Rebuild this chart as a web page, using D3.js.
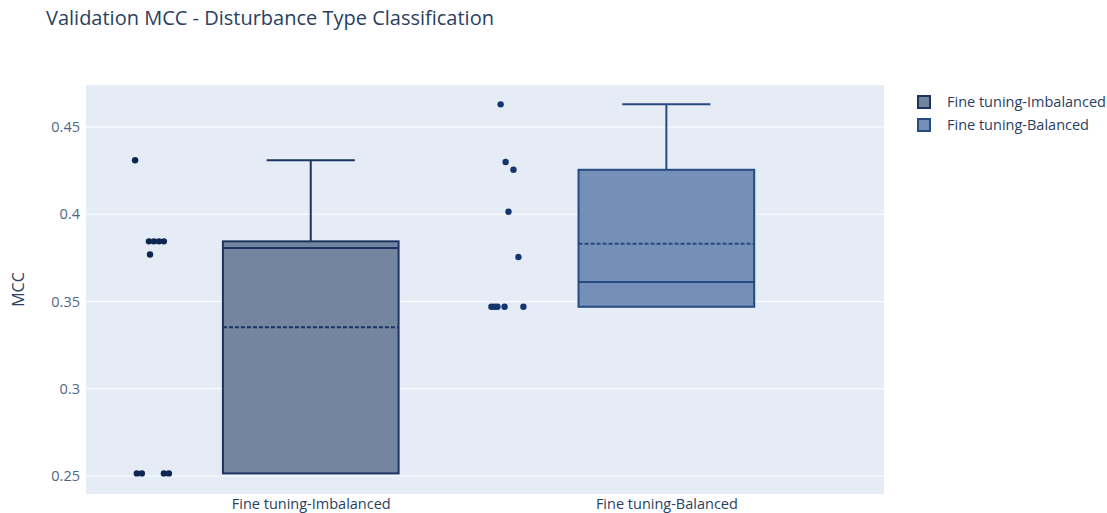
<!DOCTYPE html>
<html><head><meta charset="utf-8">
<script src="https://cdn.jsdelivr.net/npm/d3@7"></script>
<style>body{margin:0;background:#fff;}svg{display:block;font-family:"Open Sans",sans-serif;}</style>
</head><body><svg id="c" width="1107" height="513"></svg>
<script>
const categories = ["Fine tuning-Imbalanced", "Fine tuning-Balanced"];
const imbalancedValues = [0.431, 0.3845, 0.3845, 0.3845, 0.3845, 0.377, 0.2515, 0.2515, 0.2515, 0.2515];
const balancedValues = [0.463, 0.430, 0.4255, 0.4015, 0.3755, 0.347, 0.347, 0.347, 0.347, 0.347];
// horizontal jitter of each point (category units, relative to category centre)
const imbalancedJitter = [-0.494, -0.455, -0.441, -0.427, -0.413, -0.452, -0.489, -0.475, -0.413, -0.399];
const balancedJitter = [-0.466, -0.452, -0.430, -0.444, -0.416, -0.492, -0.483, -0.475, -0.455, -0.402];
const yTicks = [0.25, 0.3, 0.35, 0.4, 0.45];

const series = [
  {name: categories[0], values: imbalancedValues, jitter: imbalancedJitter, fill: "#74869f", stroke: "#1b3461", point: "#0e2652"},
  {name: categories[1], values: balancedValues, jitter: balancedJitter, fill: "#7590b8", stroke: "#274a80", point: "#12366d"}
];

const svg = d3.select("#c");
const L = 86, R = 884, T = 85, B = 494;
const x = d3.scaleLinear().domain([-0.632, 1.612]).range([L, R]);
const y = d3.scaleLinear().domain([0.2397, 0.4741]).range([B, T]);

svg.append("rect").attr("x", L).attr("y", T).attr("width", R - L).attr("height", B - T).attr("fill", "#e5ecf6");

// grid
svg.append("g").selectAll("line").data(yTicks).join("line")
  .attr("x1", L).attr("x2", R).attr("y1", d => y(d)).attr("y2", d => y(d))
  .attr("stroke", "#fff").attr("stroke-width", 1);

// y axis
const yAxis = d3.axisLeft(y).tickValues(yTicks).tickSize(0).tickPadding(6).tickFormat(d => String(+d.toFixed(2)));
const ya = svg.append("g").attr("transform", `translate(${L},0)`).call(yAxis);
ya.select(".domain").remove();
ya.selectAll("text").attr("font-size", 14.5).attr("fill", "#506784").attr("font-family", "Open Sans");

// x axis
const xAxis = d3.axisBottom(x).tickValues([0, 1]).tickSize(0).tickPadding(5).tickFormat(i => categories[i]);
const xa = svg.append("g").attr("transform", `translate(0,${B})`).call(xAxis);
xa.select(".domain").remove();
xa.selectAll("text").attr("font-size", 14.5).attr("fill", "#2a3f5f").attr("font-family", "Open Sans");

// quartile per plotly 'linear'
function q(sorted, p) {
  const n = sorted.length;
  let pos = n * p + 0.5 - 1;
  pos = Math.max(0, Math.min(n - 1, pos));
  const lo = Math.floor(pos), hi = Math.ceil(pos);
  return sorted[lo] + (sorted[hi] - sorted[lo]) * (pos - lo);
}

const halfBox = 0.247, halfCap = 0.124;
series.forEach((s, i) => {
  const sorted = s.values.slice().sort(d3.ascending);
  const q1 = q(sorted, 0.25), q3 = q(sorted, 0.75), med = d3.median(sorted), mean = d3.mean(sorted);
  const iqr = q3 - q1;
  const hiW = d3.max(sorted.filter(v => v <= q3 + 1.5 * iqr));
  const loW = d3.min(sorted.filter(v => v >= q1 - 1.5 * iqr));
  const g = svg.append("g");
  const cx = x(i);
  g.append("line").attr("x1", cx).attr("x2", cx).attr("y1", y(q3)).attr("y2", y(hiW)).attr("stroke", s.stroke).attr("stroke-width", 2);
  g.append("line").attr("x1", x(i - halfCap)).attr("x2", x(i + halfCap)).attr("y1", y(hiW)).attr("y2", y(hiW)).attr("stroke", s.stroke).attr("stroke-width", 2);
  g.append("line").attr("x1", cx).attr("x2", cx).attr("y1", y(q1)).attr("y2", y(loW)).attr("stroke", s.stroke).attr("stroke-width", 2);
  if (loW < q1) g.append("line").attr("x1", x(i - halfCap)).attr("x2", x(i + halfCap)).attr("y1", y(loW)).attr("y2", y(loW)).attr("stroke", s.stroke).attr("stroke-width", 2);
  g.append("rect").attr("x", x(i - halfBox)).attr("width", x(i + halfBox) - x(i - halfBox))
    .attr("y", y(q3)).attr("height", y(q1) - y(q3))
    .attr("fill", s.fill).attr("stroke", s.stroke).attr("stroke-width", 2);
  g.append("line").attr("x1", x(i - halfBox)).attr("x2", x(i + halfBox)).attr("y1", y(med)).attr("y2", y(med)).attr("stroke", s.stroke).attr("stroke-width", 2);
  g.append("line").attr("x1", x(i - halfBox)).attr("x2", x(i + halfBox)).attr("y1", y(mean)).attr("y2", y(mean))
    .attr("stroke", s.stroke).attr("stroke-width", 2).attr("stroke-dasharray", "4,2");
  g.selectAll("circle").data(s.values).join("circle")
    .attr("cx", (d, k) => x(i + s.jitter[k])).attr("cy", d => y(d)).attr("r", 3.2)
    .attr("fill", s.point);
});

// title
svg.append("text").attr("x", 46).attr("y", 25).attr("font-size", 20).attr("fill", "#2a3f5f").text("Validation MCC - Disturbance Type Classification");

// y title
svg.append("text").attr("transform", `translate(24,${(T + B) / 2}) rotate(-90)`).attr("text-anchor", "middle")
  .attr("font-size", 16).attr("fill", "#2a3f5f").text("MCC");

// legend
const lg = svg.append("g").attr("transform", "translate(917,95)");
series.forEach((s, i) => {
  const row = lg.append("g").attr("transform", `translate(0,${i * 23})`);
  row.append("rect").attr("x", 1).attr("y", 1).attr("width", 12).attr("height", 12).attr("fill", s.fill).attr("stroke", s.stroke).attr("stroke-width", 2);
  row.append("text").attr("x", 30).attr("y", 12).attr("font-size", 14.5).attr("fill", "#2a3f5f").text(s.name);
});
</script></body></html>
